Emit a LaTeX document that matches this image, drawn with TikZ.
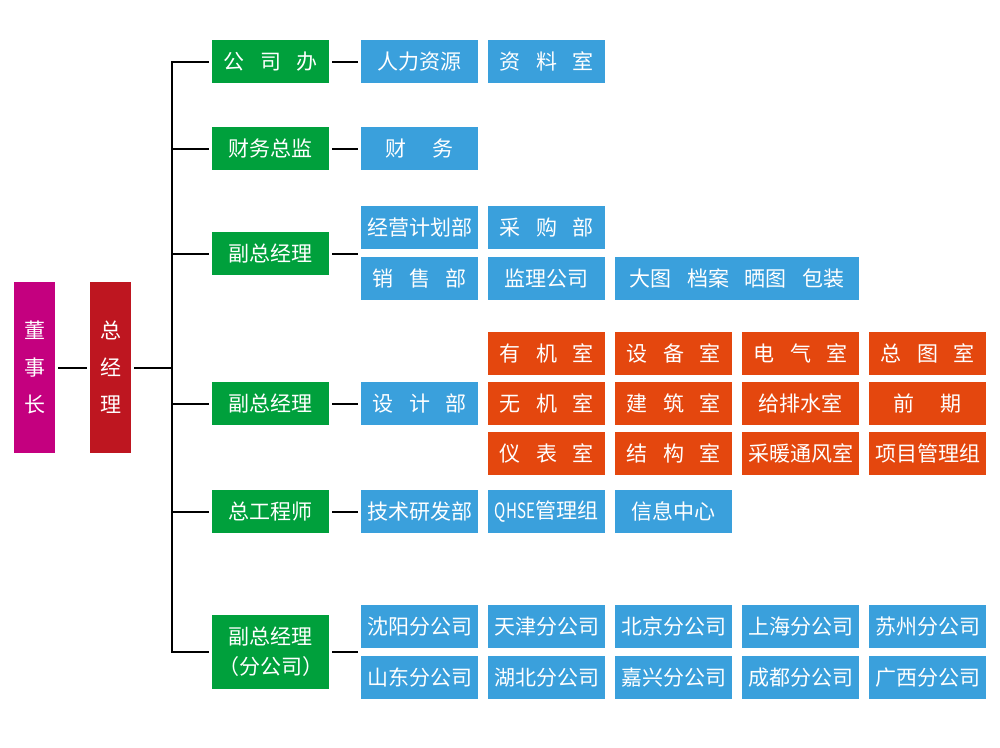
\documentclass[tikz,border=0pt]{standalone}
\usepackage{fontspec}
\setmainfont{Noto Sans CJK SC}
\definecolor{dszpink}{HTML}{C4007F}
\definecolor{zjlred}{HTML}{BE1620}
\definecolor{leadgreen}{HTML}{00A03C}
\definecolor{deptblue}{HTML}{3AA0DC}
\definecolor{roomorange}{HTML}{E4470E}
\newcommand{\kg}{\hspace{0.75em}}
\newcommand{\kgg}{\hspace{1.25em}}
\begin{document}
\begin{tikzpicture}[x=1pt,y=-1pt,
    box/.style={minimum width=117pt,minimum height=43pt,inner sep=0pt,
      text=white,font=\fontsize{21}{24}\selectfont},
    tall/.style={box,minimum width=41pt,minimum height=171pt,align=center,
      font=\fontsize{21}{37}\selectfont},
    lead/.style={box,fill=leadgreen},
    dept/.style={box,fill=deptblue},
    room/.style={box,fill=roomorange},
    link/.style={line width=2pt,shorten <=3pt,shorten >=3pt},
    branch/.style={line width=2pt,shorten >=3pt}]
  \useasboundingbox (0,0) rectangle (1000,747);
  % top of the tree
  \draw
    (34.5,367.5) node[tall,fill=dszpink] (dsz){董\\事\\长}
    (110.5,367.5) node[tall,fill=zjlred] (zjl){总\\经\\理};
  \coordinate (t) at (172,367.5);
  % leaders
  \draw
    (270.5,61.5) node[lead] (gsb){公\kg 司\kg 办}
    (270.5,148.5) node[lead] (cwzj){财务总监}
    (270.5,253.5) node[lead] (fzjla){副总经理}
    (270.5,403.5) node[lead] (fzjlb){副总经理}
    (270.5,511.5) node[lead] (zgcs){总工程师}
    (270.5,652) node[lead,minimum height=74pt,align=center,
      font=\fontsize{21}{30}\selectfont] (fzjlc){副总经理\\（分公司）};
  % departments
  \draw
    (419.5,61.5) node[dept] (rlzy){人力资源}
    (546.5,61.5) node[dept] (zls){资\kg 料\kg 室}
    (419.5,148.5) node[dept] (cw){财\kgg 务}
    (419.5,227.5) node[dept] (jyjh){经营计划部}
    (546.5,227.5) node[dept] (cgb){采\kg 购\kg 部}
    (419.5,278.5) node[dept] (xsb){销\kg 售\kg 部}
    (546.5,278.5) node[dept] (jlgs){监理公司}
    (737,278.5) node[dept,minimum width=244pt] (dtda){大图\kg 档案\kg 晒图\kg 包装}
    (419.5,403.5) node[dept] (sjb){设\kg 计\kg 部}
    (419.5,511.5) node[dept] (jsyf){技术研发部}
    (546.5,511.5) node[dept] (qhse){\scalebox{0.72}[1]{QHSE}管理组}
    (673.5,511.5) node[dept] (xxzx){信息中心};
  % design rooms
  \draw
    (546.5,353.5) node[room] (yjs){有\kg 机\kg 室}
    (673.5,353.5) node[room] (sbs){设\kg 备\kg 室}
    (800.5,353.5) node[room] (dqs){电\kg 气\kg 室}
    (927.5,353.5) node[room] (zts){总\kg 图\kg 室}
    (546.5,403.5) node[room] (wjs){无\kg 机\kg 室}
    (673.5,403.5) node[room] (jzs){建\kg 筑\kg 室}
    (800.5,403.5) node[room] (gps){给排水室}
    (927.5,403.5) node[room] (qq){前\kgg 期}
    (546.5,453.5) node[room] (ybs){仪\kg 表\kg 室}
    (673.5,453.5) node[room] (jgs){结\kg 构\kg 室}
    (800.5,453.5) node[room] (cntf){采暖通风室}
    (927.5,453.5) node[room] (xmgl){项目管理组};
  % branch companies
  \draw
    (419.5,626.5) node[dept] (sy){沈阳分公司}
    (546.5,626.5) node[dept] (tj){天津分公司}
    (673.5,626.5) node[dept] (bj){北京分公司}
    (800.5,626.5) node[dept] (sh){上海分公司}
    (927.5,626.5) node[dept] (sz){苏州分公司}
    (419.5,677.5) node[dept] (sd){山东分公司}
    (546.5,677.5) node[dept] (hb){湖北分公司}
    (673.5,677.5) node[dept] (jx){嘉兴分公司}
    (800.5,677.5) node[dept] (cd){成都分公司}
    (927.5,677.5) node[dept] (gx){广西分公司};
  \coordinate (ea) at (358,253.5);
  \coordinate (eb) at (358,652);
  \begin{scope}[line width=2pt]
    \draw[link] (dsz) to (zjl);
    \draw[shorten <=3pt] (zjl) to (t);
    \draw[link] (gsb) -| (t) |- (fzjlc);
    \draw[branch] (t |- cwzj) to (cwzj);
    \draw[branch] (t |- fzjla) to (fzjla);
    \draw[branch] (t |- fzjlb) to (fzjlb);
    \draw[branch] (t |- zgcs) to (zgcs);
    \draw[link] (gsb) to (rlzy);
    \draw[link] (cwzj) to (cw);
    \draw[shorten <=3pt] (fzjla) to (ea);
    \draw[link] (fzjlb) to (sjb);
    \draw[link] (zgcs) to (jsyf);
    \draw[shorten <=3pt] (fzjlc) to (eb);
  \end{scope}
\end{tikzpicture}
\end{document}
